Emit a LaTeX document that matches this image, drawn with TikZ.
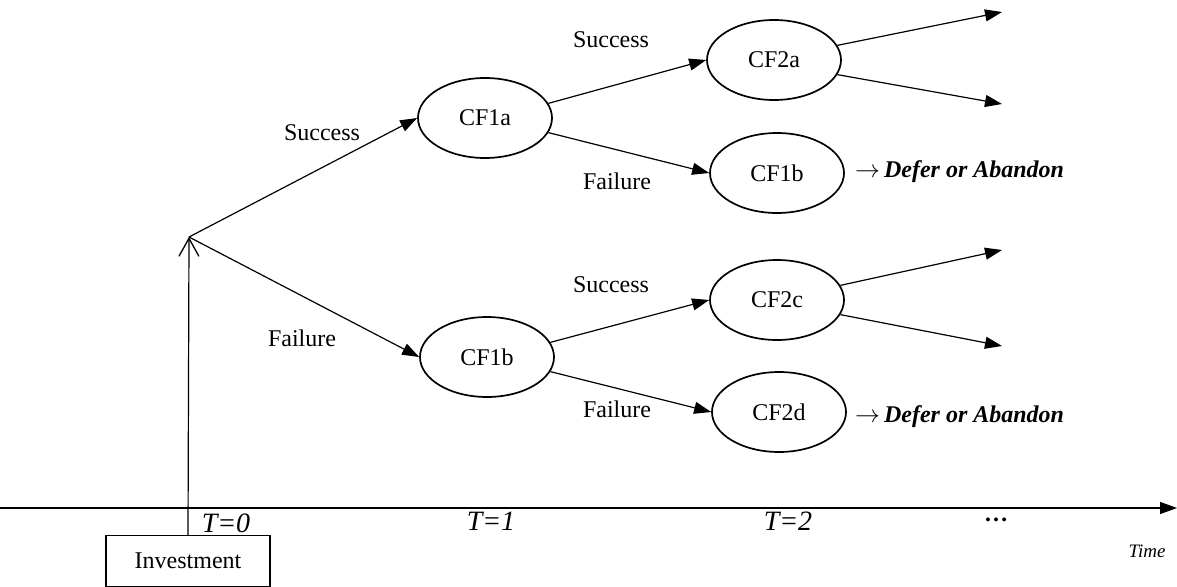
\documentclass[tikz,border=0pt]{standalone}
\usepackage{fontspec}
\setmainfont{Liberation Serif}
\usetikzlibrary{arrows.meta,shapes.geometric}
\begin{document}
\begin{tikzpicture}[x=1pt,y=-1pt,
  cf/.style={draw,ellipse,line width=1.7pt,minimum width=134pt,minimum height=80pt,inner sep=0pt,font=\fontsize{24}{28}\selectfont},
  lbl/.style={font=\fontsize{24}{28}\selectfont,inner sep=0pt},
  tlbl/.style={font=\fontsize{28}{32}\selectfont\itshape,inner sep=0pt},
  conn/.style={line width=1.2pt,-{Triangle[length=17pt,width=12pt]}},
  defer/.style={font=\fontsize{24}{28}\selectfont,inner sep=0pt,anchor=west}]
\useasboundingbox (0,0) rectangle (1177,586);
% time axis
\coordinate (ax0) at (0,508);
\coordinate (ax1) at (1177,508);
\draw[conn] (ax0) -- (ax1);
% nodes
\node[cf] (cf1a) at (485,118) {CF1a};
\node[cf] (cf2a) at (774,60) {CF2a};
\node[cf] (cf1bt) at (777,173) {CF1b};
\node[cf] (cf1b) at (487,357) {CF1b};
\node[cf] (cf2c) at (777,300) {CF2c};
\node[cf] (cf2d) at (779,412) {CF2d};
\node[draw,line width=1.2pt,minimum width=164pt,minimum height=51pt,inner sep=0pt,font=\fontsize{24}{28}\selectfont] (inv) at (188,561) {Investment};
\coordinate (J) at (189,237);
\coordinate (e1) at (1002,12);
\coordinate (e2) at (1002,104);
\coordinate (e3) at (1002,250);
\coordinate (e4) at (1002,346);
% connectors
\draw[line width=1.2pt,-{Straight Barb[length=18pt,width=20pt,line width=1.3pt]}] (inv.north) -- (J);
\draw[conn] (J) -- (cf1a.west);
\draw[conn] (J) -- (cf1b.west);
\draw[conn] (cf1a.13) -- (cf2a.west);
\draw[conn] (cf1a.-13) -- (cf1bt.west);
\draw[conn] (cf2a.13) -- (e1);
\draw[conn] (cf2a.-13) -- (e2);
\draw[conn] (cf1b.13) -- (cf2c.west);
\draw[conn] (cf1b.-13) -- (cf2d.west);
\draw[conn] (cf2c.13) -- (e3);
\draw[conn] (cf2c.-13) -- (e4);
% labels
\node[lbl] (s1) at (322,133) {Success};
\node[lbl] (f1) at (302,338) {Failure};
\node[lbl] (s2) at (611,40) {Success};
\node[lbl] (f2) at (617,181) {Failure};
\node[lbl] (s3) at (611,285) {Success};
\node[lbl] (f3) at (617,409) {Failure};
\node[defer] (d1) at (855,172) {$\rightarrow$\,\textbf{\textit{Defer or Abandon}}};
\node[defer] (d2) at (855,417) {$\rightarrow$\,\textbf{\textit{Defer or Abandon}}};
\node[tlbl] (t0) at (226,523) {T=0};
\node[tlbl] (t1) at (491,521) {T=1};
\node[tlbl] (t2) at (788,521) {T=2};
\node[lbl,font=\fontsize{24}{28}\selectfont\bfseries] (dots) at (996,520) {…};
\node[tlbl,font=\fontsize{19}{23}\selectfont\itshape] (time) at (1147,551) {Time};
\end{tikzpicture}
\end{document}
